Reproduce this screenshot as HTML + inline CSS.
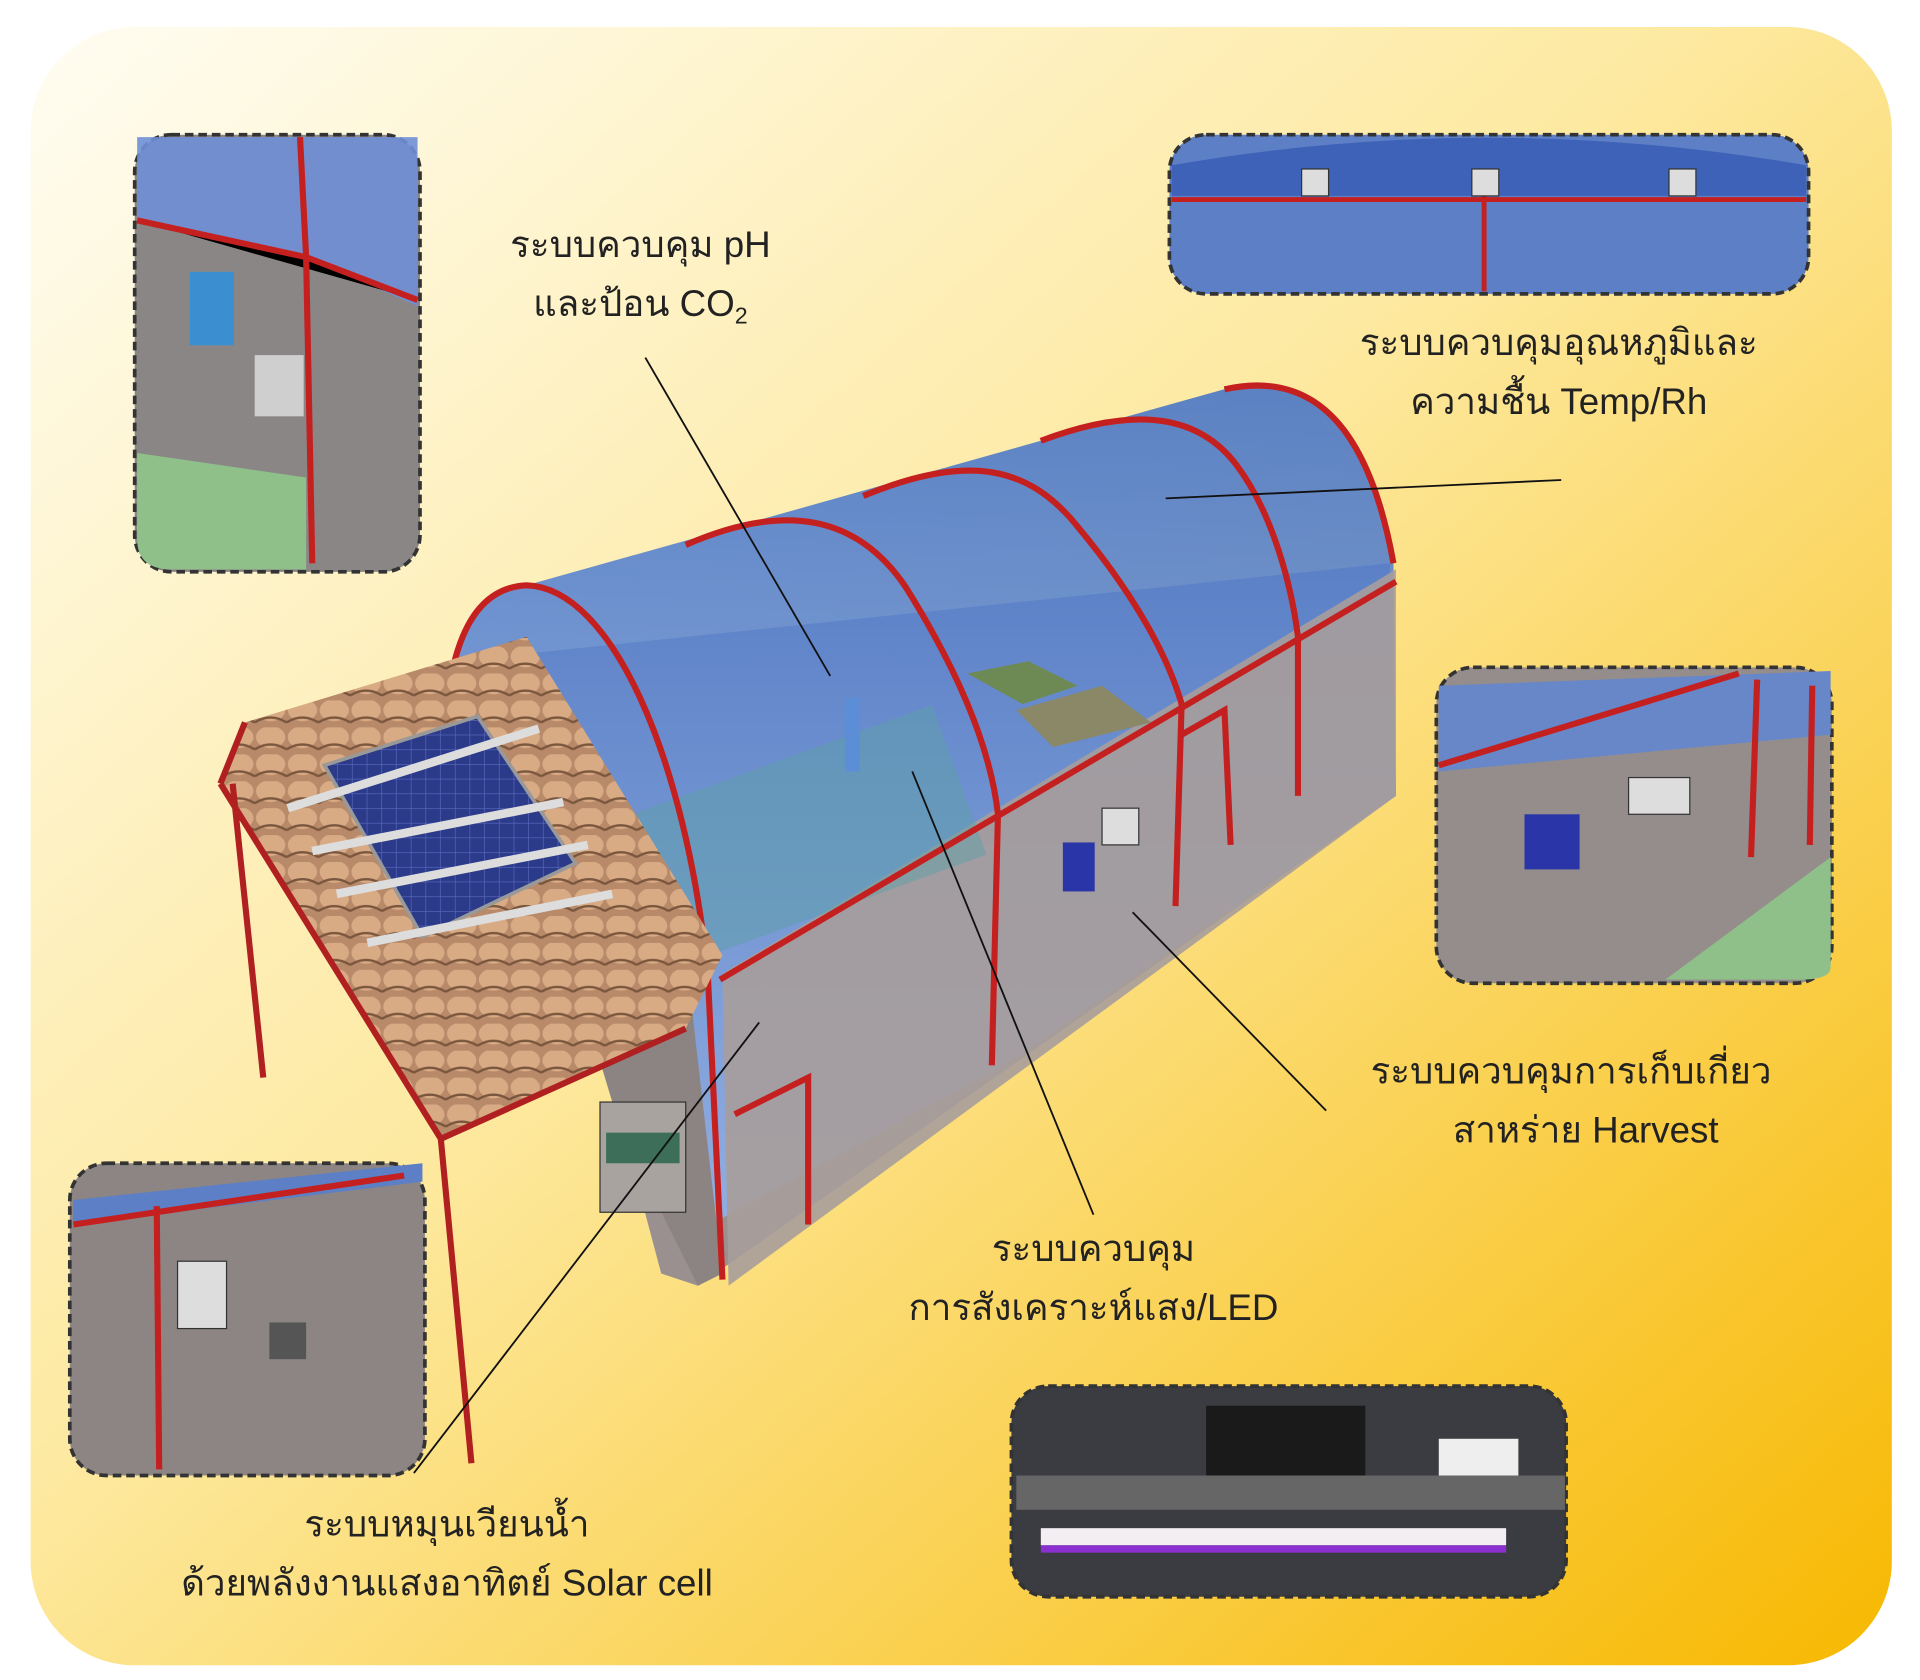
<!DOCTYPE html>
<html><head><meta charset="utf-8"><style>
html,body{margin:0;padding:0;background:#fff;width:1920px;height:1680px;overflow:hidden}
svg{display:block}
text{font-family:"Liberation Sans","DejaVu Sans",sans-serif;fill:#222}
</style></head><body>
<svg width="1920" height="1680" viewBox="0 0 1568 1372" preserveAspectRatio="none" xmlns="http://www.w3.org/2000/svg">
<defs>
<linearGradient id="bg" x1="0" y1="0" x2="1" y2="1">
<stop offset="0" stop-color="#fffdf3"/><stop offset="0.45" stop-color="#fde9a0"/><stop offset="1" stop-color="#f7b800"/>
</linearGradient>
<linearGradient id="glass" x1="0" y1="0" x2="0" y2="1">
<stop offset="0" stop-color="#3f6fc8"/><stop offset="1" stop-color="#8fb3ef"/>
</linearGradient>
<pattern id="tile" width="26" height="22" patternUnits="userSpaceOnUse">
<rect width="26" height="22" fill="#b88a6a"/><ellipse cx="13" cy="8" rx="12" ry="9" fill="#d8ab85"/><path d="M0 18 Q13 10 26 18" stroke="#7a563d" stroke-width="2" fill="none"/>
</pattern>
<pattern id="pv" width="12" height="12" patternUnits="userSpaceOnUse">
<rect width="12" height="12" fill="#2c3a8a"/><path d="M0 0H12V12" stroke="#5a6bc0" stroke-width="1" fill="none"/>
</pattern>
</defs>
<rect x="25" y="22" width="1520" height="1338" rx="85" fill="url(#bg)"/>

<!-- greenhouse body -->
<polygon points="370,540 1135,460 1140,650 570,1050 540,1040 500,890" fill="#9a9090"/>
<path d="M370,545 Q385,480 430,478 L1010,315 Q1115,305 1138,460 L1140,650 L820,870 L580,1000 L560,790 Z" fill="url(#glass)" opacity="0.85"/>
<polygon points="410,600 560,780 590,1040 570,1050 540,990 500,900" fill="#8c8482"/>
<polygon points="590,795 1140,465 1140,650 595,1050" fill="#a79d9b" opacity="0.9"/>
<polygon points="790,550 840,540 880,560 835,575" fill="#6d8a55"/>
<polygon points="830,580 900,560 940,590 860,610" fill="#8a8866"/>
<rect x="520" y="620" width="270" height="130" fill="#5ea0a8" opacity="0.5" transform="rotate(-20 650 680)"/>
<!-- arches -->
<g stroke="#c42020" stroke-width="5" fill="none">
<path d="M370,545 Q385,480 430,478 C500,480 560,620 578,795"/>
<path d="M560,445 C640,410 700,420 740,480 C790,560 810,620 815,665"/>
<path d="M705,405 C790,370 840,380 880,430 C930,490 955,540 965,575"/>
<path d="M850,360 C930,330 980,340 1010,380 C1040,420 1055,480 1060,520"/>
<path d="M1000,318 C1080,300 1120,360 1138,460"/>
<path d="M578,795 L590,1045 M815,665 L810,870 M965,575 L960,740 M1060,520 L1060,650 M588,800 L1140,475"/>
<path d="M600,910 L660,880 L660,1000 M965,600 L1000,580 L1005,690"/>
</g>
<!-- equipment -->
<rect x="868" y="688" width="26" height="40" fill="#2a35a8"/>
<rect x="900" y="660" width="30" height="30" fill="#ddd" stroke="#333"/>
<rect x="690" y="570" width="12" height="60" fill="#5b8ed6"/>
<rect x="490" y="900" width="70" height="90" fill="#a9a3a0" stroke="#333"/>
<rect x="495" y="925" width="60" height="25" fill="#3d6e5a"/>
<!-- canopy -->
<polygon points="180,640 200,590 430,520 590,780 560,840 360,930" fill="url(#tile)"/>
<g stroke="#b02020" stroke-width="5" fill="none">
<path d="M180,640 L360,930 L385,1195 M190,640 L215,880 M200,590 L180,640 M360,930 L560,840"/>
</g>
<polygon points="265,625 390,585 470,705 345,765" fill="url(#pv)" stroke="#999" stroke-width="3"/>
<g stroke="#ddd" stroke-width="7"><path d="M235,660 L440,595 M255,695 L460,655 M275,730 L480,690 M300,770 L500,730"/></g>

<!-- insets -->
<g stroke="#333" stroke-width="3" stroke-dasharray="7,4">
<rect x="110" y="110" width="233" height="357" rx="30" fill="#8a8685"/>
<rect x="955" y="110" width="522" height="130" rx="30" fill="#5c7fc6"/>
<rect x="1173" y="545" width="323" height="258" rx="30" fill="#948d8b"/>
<rect x="57" y="950" width="290" height="255" rx="30" fill="#8c8584"/>
<rect x="826" y="1132" width="453" height="172" rx="30" fill="#3a3c42"/>
</g>
<path d="M112,112 H341 V250 L250,210 L112,180 Z" fill="#6f8fd6" opacity="0.9"/>
<path d="M112,370 L250,390 L250,465 L140,465 Q112,465 112,440 Z" fill="#8fc08a"/>
<g stroke="#c42020" stroke-width="5"><path d="M112,180 L250,210 L341,245 M250,210 L255,460 M245,112 L250,210"/></g>
<rect x="155" y="222" width="36" height="60" fill="#3b8fd0"/>
<rect x="208" y="290" width="40" height="50" fill="#cfcfcf"/>
<path d="M957,135 Q1215,90 1475,135 V160 H957 Z" fill="#3d62b8"/>
<g stroke="#c42020" stroke-width="4"><path d="M957,163 H1475 M1212,150 V238"/></g>
<rect x="1063" y="138" width="22" height="22" fill="#ddd" stroke="#333"/>
<rect x="1202" y="138" width="22" height="22" fill="#ddd" stroke="#333"/>
<rect x="1363" y="138" width="22" height="22" fill="#ddd" stroke="#333"/>
<path d="M1175,560 L1495,548 L1495,600 L1175,630 Z" fill="#6787c8"/>
<path d="M1360,800 L1495,700 L1495,790 Q1495,800 1470,800 Z" fill="#8fc08a"/>
<g stroke="#c42020" stroke-width="5"><path d="M1175,625 L1420,550 M1435,555 L1430,700 M1480,560 L1478,690"/></g>
<rect x="1245" y="665" width="45" height="45" fill="#2a35a8"/>
<rect x="1330" y="635" width="50" height="30" fill="#ddd" stroke="#333"/>
<path d="M60,980 L345,950 L345,965 L60,1000 Z" fill="#5c7fc6"/>
<g stroke="#c42020" stroke-width="5"><path d="M60,1000 L330,960 M128,985 L130,1200"/></g>
<rect x="145" y="1030" width="40" height="55" fill="#ddd" stroke="#333"/>
<rect x="220" y="1080" width="30" height="30" fill="#555"/>
<rect x="985" y="1148" width="130" height="60" fill="#1a1a1a"/>
<rect x="1175" y="1175" width="65" height="30" fill="#eee"/>
<rect x="830" y="1205" width="448" height="28" fill="#666"/>
<rect x="850" y="1248" width="380" height="14" fill="#f2eef2"/>
<rect x="850" y="1262" width="380" height="6" fill="#8b2fd0"/>

<!-- leader lines -->
<g stroke="#111" stroke-width="1.5" fill="none">
<path d="M527,292 L678,552"/>
<path d="M952,407 L1275,392"/>
<path d="M925,745 L1083,907"/>
<path d="M745,630 L893,992"/>
<path d="M620,835 L338,1203"/>
</g>

<g font-size="30" text-anchor="middle">
<text x="523" y="210">ระบบควบคุม pH</text>
<text x="523" y="258">และป้อน CO<tspan font-size="19" dy="6">2</tspan></text>
<text x="1273" y="290">ระบบควบคุมอุณหภูมิและ</text>
<text x="1273" y="338">ความชื้น Temp/Rh</text>
<text x="1283" y="885">ระบบควบคุมการเก็บเกี่ยว</text>
<text x="1295" y="933">สาหร่าย Harvest</text>
<text x="893" y="1030">ระบบควบคุม</text>
<text x="893" y="1078">การสังเคราะห์แสง/LED</text>
<text x="365" y="1255">ระบบหมุนเวียนน้ำ</text>
<text x="365" y="1303">ด้วยพลังงานแสงอาทิตย์ Solar cell</text>
</g>
</svg>
</body></html>
